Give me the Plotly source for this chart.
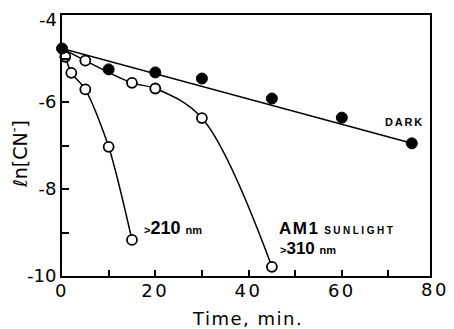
import plotly.graph_objects as go

# Data
dark_t = [0, 10, 20, 30, 45, 60, 75]
dark_y = [-4.77, -5.25, -5.32, -5.46, -5.92, -6.36, -6.95]

sun_t = [0, 5, 15, 20, 30, 45]
sun_y = [-4.77, -5.05, -5.56, -5.69, -6.37, -9.79]

uv_t = [0, 0.7, 2, 5, 10, 15]
uv_y = [-4.77, -4.96, -5.33, -5.71, -7.03, -9.17]

x_ticks = [0, 20, 40, 60]
x_tick_text = ["0", "20", "40", "60"]
y_ticks = [-6, -8, -10]
y_tick_text = ["-6", "-8", "-10"]

X_MAX = 78.9
FONT = "DejaVu Sans"
BOLD = "Liberation Sans"


def wide(s, px):
    return f"<span style='letter-spacing:{px}px'>{s}</span>"


fig = go.Figure()

# Dark: straight line from first to last point
fig.add_trace(go.Scatter(x=[dark_t[0], dark_t[-1]], y=[dark_y[0], dark_y[-1]],
                         mode="lines", line=dict(color="black", width=1.5),
                         hoverinfo="skip", showlegend=False))
# Curves for sunlight and >210
fig.add_trace(go.Scatter(x=sun_t, y=sun_y, mode="lines",
                         line=dict(color="black", width=1.5, shape="spline", smoothing=1.0),
                         showlegend=False))
fig.add_trace(go.Scatter(x=uv_t, y=uv_y, mode="lines",
                         line=dict(color="black", width=1.5, shape="spline", smoothing=0.8),
                         showlegend=False))
# Markers
fig.add_trace(go.Scatter(x=sun_t[1:], y=sun_y[1:], mode="markers",
                         marker=dict(symbol="circle", size=10, color="white",
                                     line=dict(color="black", width=1.8)),
                         cliponaxis=False, showlegend=False))
fig.add_trace(go.Scatter(x=uv_t[1:], y=uv_y[1:], mode="markers",
                         marker=dict(symbol="circle", size=10, color="white",
                                     line=dict(color="black", width=1.8)),
                         cliponaxis=False, showlegend=False))
fig.add_trace(go.Scatter(x=dark_t, y=dark_y, mode="markers",
                         marker=dict(symbol="circle", size=11, color="black",
                                     line=dict(color="black", width=1)),
                         cliponaxis=False, showlegend=False))

# page body has an 8px margin: figure is sized/offset to compensate
fig.update_layout(
    width=446, height=321,
    margin=dict(l=54, r=24, t=7, b=53, autoexpand=False),
    paper_bgcolor="white", plot_bgcolor="white",
    font=dict(family=FONT, color="black", size=17),
    xaxis=dict(range=[0, X_MAX], tickvals=x_ticks,
               ticktext=[wide(t, 2.5) for t in x_tick_text],
               ticks="inside", ticklen=6, tickwidth=1.5, tickcolor="black",
               minor=dict(dtick=10, ticks="inside", ticklen=6, tickwidth=1.5, tickcolor="black"),
               showline=True, linecolor="black", linewidth=2, mirror=True,
               showgrid=False, zeroline=False, automargin=False,
               ticklabelstandoff=-3,
               tickfont=dict(family=FONT, size=18)),
    yaxis=dict(range=[-10, -4], tickvals=y_ticks, ticktext=y_tick_text,
               ticks="inside", ticklen=7, tickwidth=1.5, tickcolor="black",
               minor=dict(dtick=1, ticks="inside", ticklen=7, tickwidth=1.5, tickcolor="black"),
               showline=True, linecolor="black", linewidth=2, mirror=True,
               showgrid=False, zeroline=False, automargin=False,
               tickfont=dict(family=FONT, size=18)),
)

annotations = [
    # "-4" tick label (sits just below the top frame)
    dict(x=0, y=-4, xref="paper", yref="y", text="-4", showarrow=False,
         xanchor="right", yanchor="middle", xshift=-3, yshift=-4,
         font=dict(family=FONT, size=18)),
    # "80" tick label just beyond the frame edge
    dict(x=80 / X_MAX, y=0, xref="paper", yref="paper", text=wide("80", 2.5), showarrow=False,
         xanchor="center", yanchor="top", yshift=-1, font=dict(family=FONT, size=18)),
    dict(x=0.504, y=-0.161, xref="paper", yref="paper", text=wide("Time, min.", 1.5),
         showarrow=False, xanchor="center", yanchor="middle", font=dict(family=FONT, size=18)),
    dict(x=-0.117, y=0.467, xref="paper", yref="paper", text="ℓn[CN<sup>-</sup>]",
         textangle=-90, showarrow=False, xanchor="center", yanchor="middle",
         font=dict(family=FONT, size=19)),
    dict(x=17.1, y=-8.89, xref="x", yref="y", xanchor="left", yanchor="middle", showarrow=False,
         text="<b><span style='font-size:11px'>&gt;</span>210 <span style='font-size:11px'>nm</span></b>",
         font=dict(family=BOLD, size=18)),
    dict(x=46.1, y=-8.91, xref="x", yref="y", xanchor="left", yanchor="middle", showarrow=False,
         text="<b>" + wide("AM1", 1.5) + " <span style='font-size:10px;letter-spacing:2.5px'>SUNLIGHT</span></b>",
         font=dict(family=BOLD, size=17)),
    dict(x=46.3, y=-9.37, xref="x", yref="y", xanchor="left", yanchor="middle", showarrow=False,
         text="<b><span style='font-size:11px'>&gt;</span>310 <span style='font-size:11px'>nm</span></b>",
         font=dict(family=BOLD, size=17)),
    dict(x=68.8, y=-6.47, xref="x", yref="y", xanchor="left", yanchor="middle", showarrow=False,
         text="<b>" + wide("DARK", 1.8) + "</b>", font=dict(family=BOLD, size=11)),
]
fig.update_layout(annotations=annotations)

fig.write_html("out.html")
